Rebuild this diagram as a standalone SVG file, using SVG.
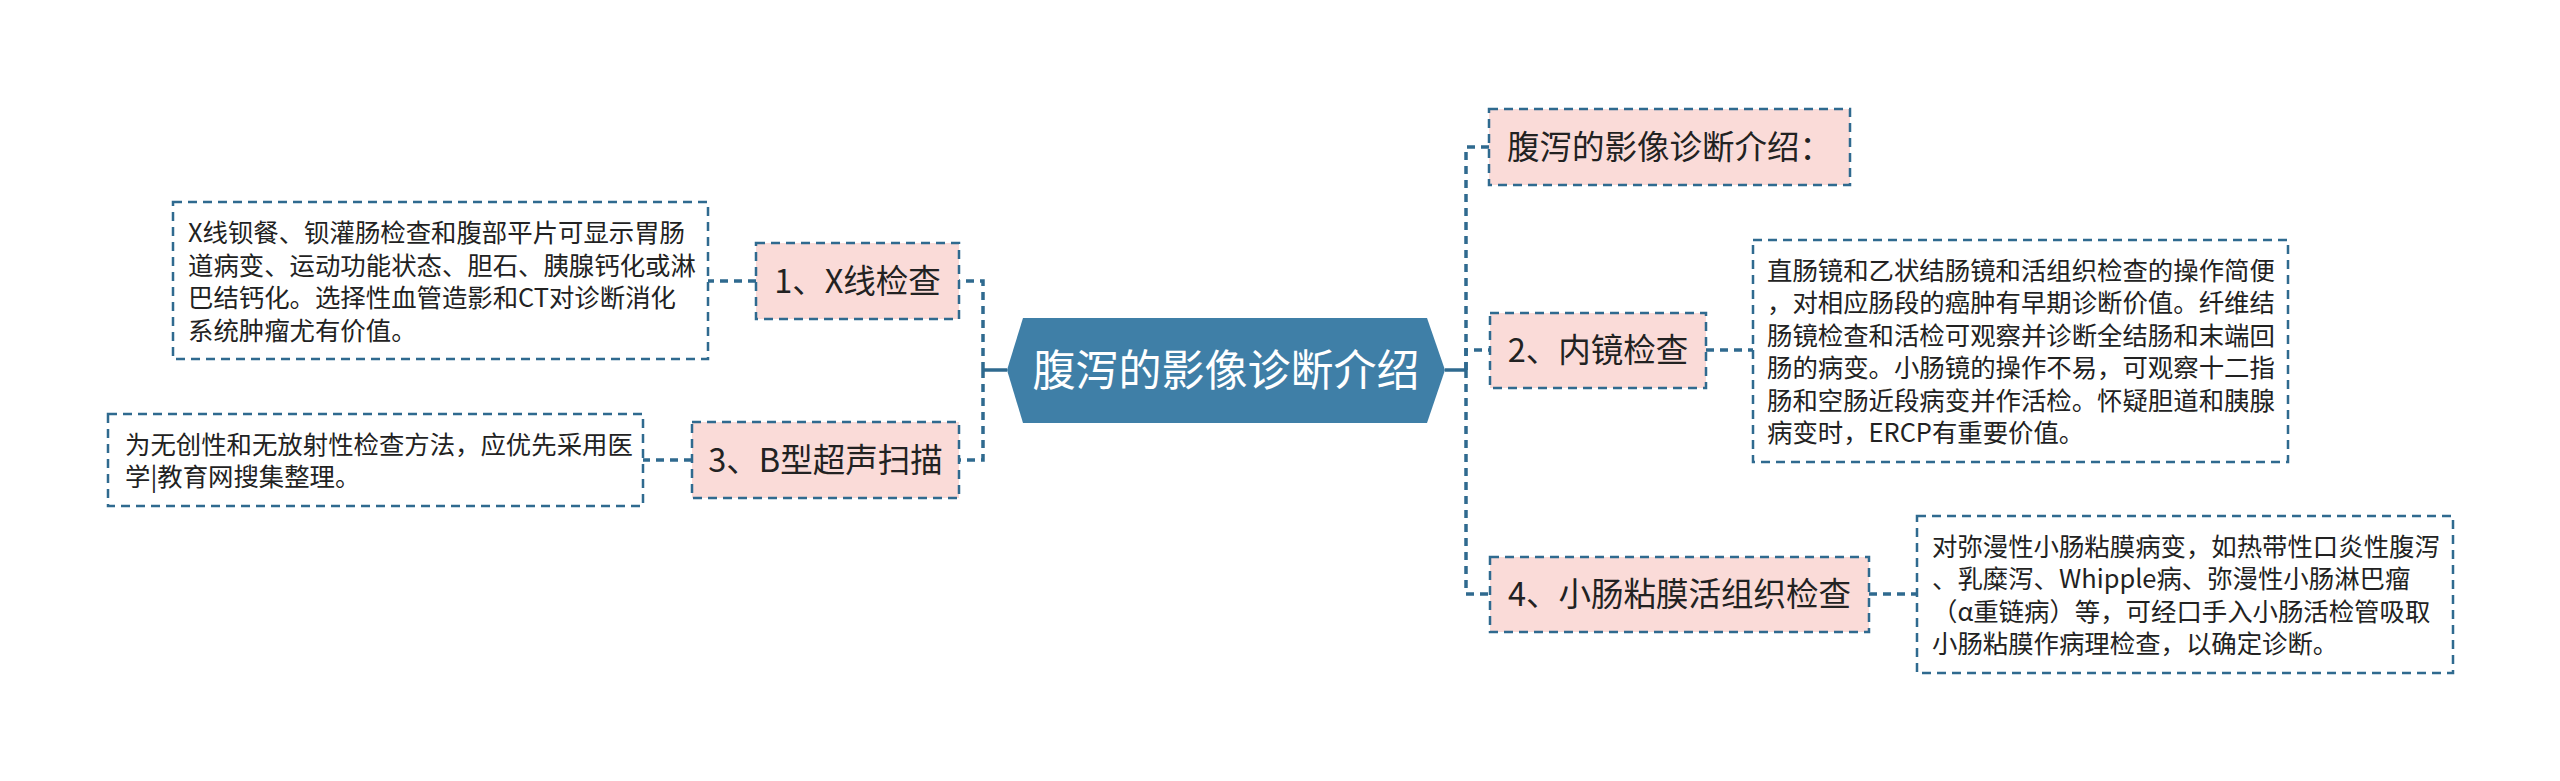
<svg xmlns="http://www.w3.org/2000/svg" width="2560" height="781" viewBox="0 0 2560 781">
<style>
.bg{fill:#ffffff}
.conn{fill:none;stroke:#2f6a8f;stroke-width:3.5;stroke-dasharray:8 6}
.solid{fill:none;stroke:#2f6a8f;stroke-width:3.5}
.sub{fill:#fadbd8;stroke:#2f6a8f;stroke-width:2.5;stroke-dasharray:9 6}
.note{fill:#ffffff;stroke:#2f6a8f;stroke-width:2.5;stroke-dasharray:9 6}
.hex{fill:#3f7fa7}
.t{font-family:"Microsoft YaHei","Noto Sans CJK SC","Noto Sans",sans-serif;fill:#222222}
.ct{font-size:43px;fill:#ffffff;text-anchor:middle}
.st{font-size:32.5px;text-anchor:middle}
.nt{font-size:25.4px}
</style>
<rect class="bg" x="0" y="0" width="2560" height="781"/>
<g id="connectors">
  <path class="solid" d="M1007,370 H983"/>
  <path class="conn" d="M983,370 V281 H959"/>
  <path class="conn" d="M983,370 V460 H959"/>
  <path class="solid" d="M1445,370 H1466"/>
  <path class="conn" d="M1466,370 V147 H1489"/>
  <path class="conn" d="M1466,370 V350 H1490"/>
  <path class="conn" d="M1466,370 V594 H1490"/>
  <path class="conn" d="M756,281 H708"/>
  <path class="conn" d="M692,460 H643"/>
  <path class="conn" d="M1706,350 H1753"/>
  <path class="conn" d="M1869,594 H1917"/>
</g>
<g id="center">
  <polygon class="hex" points="1007,370 1023,318 1427,318 1445,370 1427,423 1023,423"/>
  <text class="t ct" x="1226" y="386">腹泻的影像诊断介绍</text>
</g>
<g id="node-x">
  <rect class="sub" x="756" y="243" width="203" height="76"/>
  <text class="t st" x="857.5" y="293">1、X线检查</text>
</g>
<g id="note-x">
  <rect class="note" x="173" y="202" width="535" height="157"/>
  <text class="t nt" x="188" y="242">X线钡餐、钡灌肠检查和腹部平片可显示胃肠</text>
  <text class="t nt" x="188" y="274.5">道病变、运动功能状态、胆石、胰腺钙化或淋</text>
  <text class="t nt" x="188" y="307">巴结钙化。选择性血管造影和CT对诊断消化</text>
  <text class="t nt" x="188" y="339.5">系统肿瘤尤有价值。</text>
</g>
<g id="node-b">
  <rect class="sub" x="692" y="422" width="267" height="76"/>
  <text class="t st" x="825.5" y="472">3、B型超声扫描</text>
</g>
<g id="note-b">
  <rect class="note" x="108" y="414" width="535" height="92"/>
  <text class="t nt" x="125" y="453.5">为无创性和无放射性检查方法，应优先采用医</text>
  <text class="t nt" x="125" y="486">学|教育网搜集整理。</text>
</g>
<g id="node-title">
  <rect class="sub" x="1489" y="109" width="361" height="76"/>
  <text class="t st" x="1507" y="159" style="text-anchor:start">腹泻的影像诊断介绍：</text>
</g>
<g id="node-endo">
  <rect class="sub" x="1490" y="313" width="216" height="75"/>
  <text class="t st" x="1598" y="362">2、内镜检查</text>
</g>
<g id="note-endo">
  <rect class="note" x="1753" y="240" width="535" height="222"/>
  <text class="t nt" x="1767" y="279.5">直肠镜和乙状结肠镜和活组织检查的操作简便</text>
  <text class="t nt" x="1767" y="312">，对相应肠段的癌肿有早期诊断价值。纤维结</text>
  <text class="t nt" x="1767" y="344.5">肠镜检查和活检可观察并诊断全结肠和末端回</text>
  <text class="t nt" x="1767" y="377">肠的病变。小肠镜的操作不易，可观察十二指</text>
  <text class="t nt" x="1767" y="409.5">肠和空肠近段病变并作活检。怀疑胆道和胰腺</text>
  <text class="t nt" x="1767" y="442">病变时，ERCP有重要价值。</text>
</g>
<g id="node-bio">
  <rect class="sub" x="1490" y="557" width="379" height="75"/>
  <text class="t st" x="1679.5" y="606">4、小肠粘膜活组织检查</text>
</g>
<g id="note-bio">
  <rect class="note" x="1917" y="516" width="536" height="157"/>
  <text class="t nt" x="1932" y="555.5">对弥漫性小肠粘膜病变，如热带性口炎性腹泻</text>
  <text class="t nt" x="1932" y="588">、乳糜泻、Whipple病、弥漫性小肠淋巴瘤</text>
  <text class="t nt" x="1932" y="620.5">（α重链病）等，可经口手入小肠活检管吸取</text>
  <text class="t nt" x="1932" y="653">小肠粘膜作病理检查，以确定诊断。</text>
</g>
</svg>
